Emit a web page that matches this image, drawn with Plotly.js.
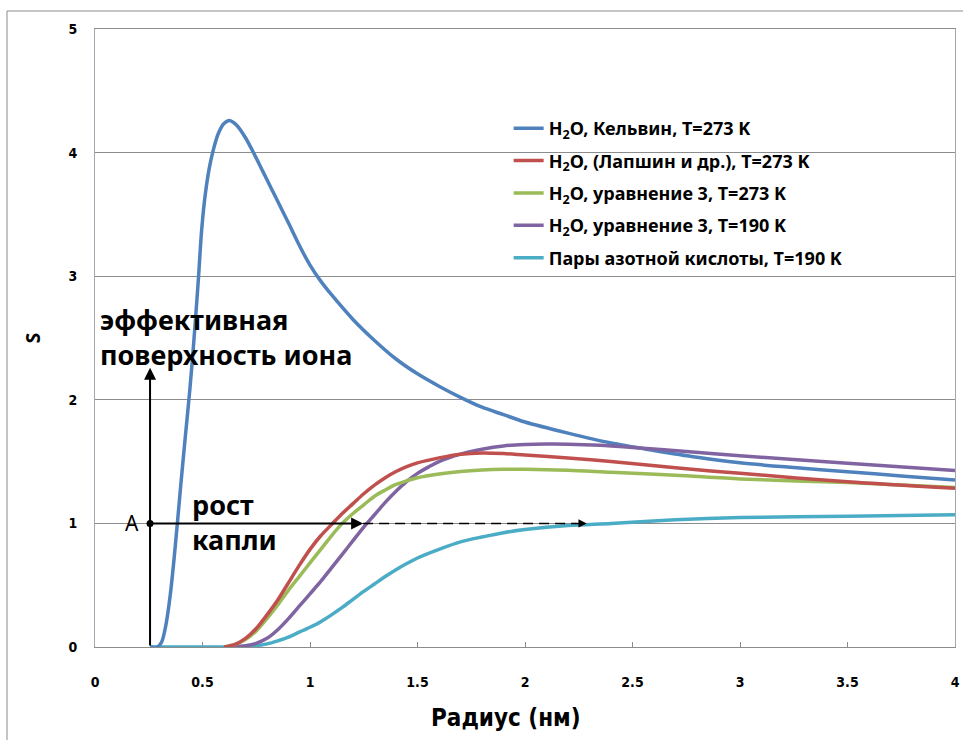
<!DOCTYPE html>
<html>
<head>
<meta charset="utf-8">
<script src="https://cdn.plot.ly/plotly-3.0.1.min.js"></script>
<style>html,body{margin:0;padding:0;background:#fff;}#chart{width:963px;height:740px;}</style>
</head>
<body>
<div id="chart"></div>
<script>
// ---- data ----
const seriesNames = [
  "H<sub>2</sub>O, Кельвин, T=273 K",
  "H<sub>2</sub>O, (Лапшин и др.), T=273 K",
  "H<sub>2</sub>O, уравнение 3, T=273 K",
  "H<sub>2</sub>O, уравнение 3, T=190 K",
  "Пары азотной кислоты, T=190 K"
];
const kelvinR = [0.256, 0.29, 0.31, 0.33, 0.35, 0.367, 0.383, 0.40, 0.42, 0.442, 0.46, 0.481, 0.495, 0.51, 0.53, 0.55, 0.575, 0.60, 0.625, 0.66, 0.70, 0.74, 0.78, 0.82, 0.86, 0.90, 0.95, 1.0, 1.05, 1.1, 1.2, 1.3, 1.4, 1.5, 1.6, 1.7, 1.8, 1.9, 2.0, 2.2, 2.4, 2.6, 2.8, 3.0, 3.25, 3.5, 3.75, 4.0];
const kelvinS = [0, 0, 0.04, 0.18, 0.42, 0.70, 1.0, 1.33, 1.70, 2.10, 2.48, 2.98, 3.35, 3.62, 3.86, 4.02, 4.16, 4.235, 4.26, 4.22, 4.12, 3.99, 3.85, 3.71, 3.57, 3.43, 3.25, 3.09, 2.96, 2.85, 2.65, 2.48, 2.33, 2.21, 2.11, 2.02, 1.94, 1.88, 1.82, 1.73, 1.65, 1.59, 1.535, 1.49, 1.452, 1.418, 1.384, 1.351];

const lapshinR = [0.60, 0.65, 0.70, 0.75, 0.80, 0.85, 0.90, 0.95, 1.0, 1.05, 1.1, 1.15, 1.2, 1.25, 1.3, 1.35, 1.4, 1.45, 1.5, 1.6, 1.7, 1.8, 1.9, 2.0, 2.2, 2.4, 2.7, 3.0, 3.5, 4.0];
const lapshinS = [0, 0.02, 0.07, 0.15, 0.26, 0.38, 0.52, 0.66, 0.79, 0.90, 0.99, 1.08, 1.16, 1.24, 1.31, 1.37, 1.42, 1.46, 1.49, 1.53, 1.56, 1.57, 1.565, 1.553, 1.53, 1.50, 1.45, 1.405, 1.337, 1.284];

const eq3warmR = [0.60, 0.65, 0.70, 0.75, 0.80, 0.85, 0.90, 0.95, 1.0, 1.05, 1.1, 1.15, 1.2, 1.25, 1.3, 1.35, 1.4, 1.45, 1.5, 1.6, 1.7, 1.8, 1.9, 2.0, 2.2, 2.4, 2.7, 3.0, 3.5, 4.0];
const eq3warmS = [0, 0.02, 0.06, 0.13, 0.23, 0.34, 0.46, 0.57, 0.68, 0.79, 0.90, 1.0, 1.08, 1.15, 1.22, 1.27, 1.315, 1.345, 1.37, 1.40, 1.42, 1.432, 1.438, 1.438, 1.43, 1.413, 1.39, 1.36, 1.33, 1.29];

const eq3coldR = [0.63, 0.70, 0.75, 0.80, 0.85, 0.90, 0.95, 1.0, 1.05, 1.1, 1.15, 1.2, 1.25, 1.3, 1.35, 1.4, 1.45, 1.5, 1.55, 1.6, 1.7, 1.8, 1.9, 2.0, 2.1, 2.2, 2.35, 2.5, 2.75, 3.0, 3.5, 4.0];
const eq3coldS = [0, 0.01, 0.03, 0.07, 0.14, 0.23, 0.33, 0.43, 0.53, 0.64, 0.75, 0.86, 0.97, 1.07, 1.17, 1.26, 1.34, 1.405, 1.455, 1.50, 1.56, 1.60, 1.627, 1.638, 1.642, 1.641, 1.632, 1.615, 1.582, 1.548, 1.486, 1.427];

const nitricR = [0.256, 0.4, 0.6, 0.7, 0.75, 0.8, 0.85, 0.9, 0.95, 1.0, 1.05, 1.1, 1.15, 1.2, 1.25, 1.3, 1.35, 1.4, 1.45, 1.5, 1.6, 1.7, 1.8, 1.9, 2.0, 2.2, 2.4, 2.7, 3.0, 3.5, 4.0];
const nitricS = [0, 0, 0, 0.003, 0.01, 0.025, 0.05, 0.08, 0.12, 0.16, 0.205, 0.26, 0.32, 0.385, 0.45, 0.51, 0.57, 0.625, 0.675, 0.72, 0.79, 0.85, 0.89, 0.925, 0.95, 0.983, 1.0, 1.03, 1.048, 1.058, 1.07];

const pointA = {r: [0.256], s: [1]};
const arrowUpTop = 2.26;      // top of vertical arrow (S)
const growthSolidEnd = 1.247; // end of solid growth arrow (nm)
const growthDashEnd = 2.287;  // end of dashed growth arrow (nm)

const xTicks = [0, 0.5, 1, 1.5, 2, 2.5, 3, 3.5, 4];
const xTickText = ["0", "0.5", "1", "1.5", "2", "2.5", "3", "3.5", "4"];
const yTicks = [0, 1, 2, 3, 4, 5];

const colors = ["#4f81bd", "#c0504d", "#9bbb59", "#8064a2", "#4bacc6"];
const xs = [kelvinR, lapshinR, eq3warmR, eq3coldR, nitricR];
const ys = [kelvinS, lapshinS, eq3warmS, eq3coldS, nitricS];

const traces = [];
const order = [4, 0, 3, 2, 1];
order.forEach(i => {
  traces.push({
    x: xs[i], y: ys[i], type: "scatter", mode: "lines",
    name: seriesNames[i], legendgroup: "g" + i, legendrank: i + 1,
    line: {color: colors[i], width: 3.5, shape: "spline", smoothing: 0.8},
    hoverinfo: "skip"
  });
});
traces.push({
  x: pointA.r, y: pointA.s, type: "scatter", mode: "markers",
  marker: {color: "#000", size: 7}, showlegend: false, hoverinfo: "skip"
});

const FONT = "Noto Sans, DejaVu Sans, sans-serif";
const COND = "DejaVu Sans Condensed, Liberation Sans Narrow, sans-serif";
const labelFont = {family: FONT, size: 27, color: "#000"};

const layout = {
  width: 963, height: 740,
  margin: {l: 95, r: 8, t: 29, b: 93},
  paper_bgcolor: "#fff", plot_bgcolor: "#fff",
  showlegend: true,
  legend: {
    x: 0.481, y: 0.869, xanchor: "left", yanchor: "top",
    bgcolor: "rgba(0,0,0,0)", traceorder: "grouped", tracegroupgap: 6,
    font: {family: FONT, size: 18, color: "#000", weight: "bold"},
    itemwidth: 30
  },
  xaxis: {
    range: [0, 4], tickmode: "array", tickvals: xTicks, ticktext: xTickText,
    showgrid: false, zeroline: false,
    showline: true, linecolor: "#8c8c8c", linewidth: 1, mirror: true,
    ticks: "inside", ticklen: 5, tickcolor: "#8c8c8c",
    ticklabelstandoff: 22,
    tickfont: {family: COND, size: 14, color: "#000", weight: "bold"},
    fixedrange: true
  },
  yaxis: {
    range: [0, 5], tickmode: "array", tickvals: yTicks,
    showgrid: true, gridcolor: "#8c8c8c", gridwidth: 1, zeroline: false,
    showline: true, linecolor: "#a0a8b0", linewidth: 1, mirror: true,
    ticks: "", ticklabelstandoff: 14,
    tickfont: {family: COND, size: 14, color: "#000", weight: "bold"},
    title: {text: "S", standoff: 22, font: {family: FONT, size: 19, color: "#000", weight: "bold"}},
    fixedrange: true
  },
  shapes: [
    {type: "rect", xref: "paper", yref: "paper",
     x0: (7 - 95) / 860, x1: 1.05, y0: -0.25, y1: (647 - 11) / 618,
     line: {color: "#8c8c8c", width: 1}, fillcolor: "rgba(0,0,0,0)", layer: "below"},
    {type: "line", xref: "x", yref: "y", x0: growthSolidEnd, x1: growthDashEnd - 0.05, y0: 1, y1: 1,
     line: {color: "#000", width: 1.5, dash: "10px,6px"}}
  ],
  annotations: [
    {x: pointA.r[0], y: arrowUpTop, ax: pointA.r[0], ay: 0, xref: "x", yref: "y", axref: "x", ayref: "y",
     text: "", showarrow: true, arrowhead: 2, arrowsize: 1.2, arrowwidth: 2, arrowcolor: "#000", standoff: 0},
    {x: growthSolidEnd, y: 1, ax: pointA.r[0], ay: 1, xref: "x", yref: "y", axref: "x", ayref: "y",
     text: "", showarrow: true, arrowhead: 2, arrowsize: 1.2, arrowwidth: 2, arrowcolor: "#000", standoff: 0},
    {x: growthDashEnd, y: 1, ax: growthDashEnd - 0.06, ay: 1, xref: "x", yref: "y", axref: "x", ayref: "y",
     text: "", showarrow: true, arrowhead: 2, arrowsize: 1.1, arrowwidth: 1.5, arrowcolor: "#000", standoff: 0},
    {x: 0.012, y: 2.505, xref: "x", yref: "y", xanchor: "left", yanchor: "middle", showarrow: false, align: "left",
     text: "<b>эффективная<br>поверхность иона</b>", font: labelFont},
    {x: 0.44, y: 1.015, xref: "x", yref: "y", xanchor: "left", yanchor: "middle", showarrow: false, align: "left",
     text: "<b>рост<br>капли</b>", font: labelFont},
    {x: 0.256, y: 1, xref: "x", yref: "y", xanchor: "right", yanchor: "middle", xshift: -9, showarrow: false,
     text: "A", font: {family: FONT, size: 21, color: "#000"}},
    {x: (506 - 95) / 860, y: (647 - 718) / 618, xref: "paper", yref: "paper", xanchor: "center", yanchor: "middle",
     showarrow: false, text: "<b>Радиус (нм)</b>", font: {family: COND, size: 24, color: "#000"}}
  ]
};

Plotly.newPlot("chart", traces, layout, {staticPlot: true, displayModeBar: false});
</script>
</body>
</html>
